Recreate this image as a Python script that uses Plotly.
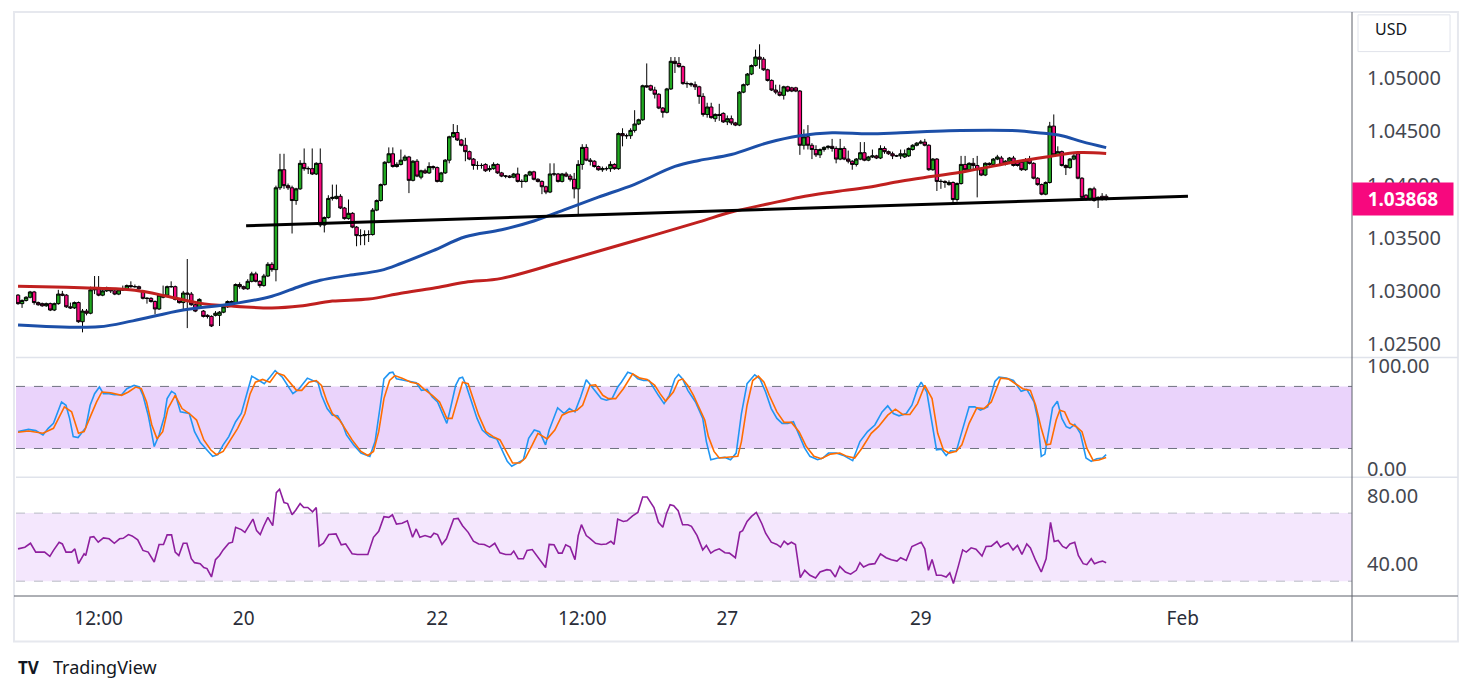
import plotly.graph_objects as go

# hourly EUR/USD candles, index 0 = first bar on screen
opens = [
    1.0296, 1.0288, 1.0291, 1.0294, 1.0299, 1.0289, 1.0288, 1.0286, 1.0288, 1.0282,
    1.0288, 1.0297, 1.0296, 1.0285, 1.0284, 1.0289, 1.0271, 1.0281, 1.0279, 1.0301,
    1.0302, 1.0296, 1.0300, 1.0302, 1.0300, 1.0297, 1.0301, 1.0301, 1.0305, 1.0304,
    1.0304, 1.0300, 1.0293, 1.0293, 1.0290, 1.0283, 1.0294, 1.0296, 1.0304, 1.0304,
    1.0292, 1.0289, 1.0298, 1.0297, 1.0287, 1.0284, 1.0281, 1.0277, 1.0276, 1.0277,
    1.0277, 1.0280, 1.0285, 1.0290, 1.0289, 1.0306, 1.0304, 1.0302, 1.0309, 1.0316,
    1.0309, 1.0305, 1.0314, 1.0325, 1.0320, 1.0397, 1.0414, 1.0399, 1.0397, 1.0385,
    1.0396, 1.0420, 1.0415, 1.0415, 1.0410, 1.0420, 1.0362, 1.0369, 1.0387, 1.0387,
    1.0389, 1.0378, 1.0368, 1.0373, 1.0360, 1.0352, 1.0352, 1.0353, 1.0353, 1.0376,
    1.0385, 1.0400, 1.0421, 1.0429, 1.0417, 1.0419, 1.0423, 1.0426, 1.0404, 1.0422,
    1.0407, 1.0413, 1.0411, 1.0417, 1.0416, 1.0403, 1.0411, 1.0423, 1.0445, 1.0449,
    1.0442, 1.0437, 1.0431, 1.0424, 1.0418, 1.0418, 1.0419, 1.0414, 1.0415, 1.0419,
    1.0411, 1.0408, 1.0408, 1.0407, 1.0410, 1.0403, 1.0403, 1.0409, 1.0412, 1.0405,
    1.0403, 1.0398, 1.0393, 1.0410, 1.0410, 1.0403, 1.0410, 1.0408, 1.0405, 1.0396,
    1.0419, 1.0435, 1.0423, 1.0422, 1.0417, 1.0414, 1.0415, 1.0415, 1.0419, 1.0415,
    1.0448, 1.0446, 1.0446, 1.0451, 1.0457, 1.0461, 1.0493, 1.0493, 1.0489, 1.0485,
    1.0472, 1.0468, 1.0490, 1.0516, 1.0514, 1.0511, 1.0495, 1.0495, 1.0494, 1.0492,
    1.0483, 1.0466, 1.0473, 1.0462, 1.0466, 1.0467, 1.0459, 1.0462, 1.0458, 1.0456,
    1.0487, 1.0494, 1.0504, 1.0512, 1.0520, 1.0518, 1.0508, 1.0498, 1.0489, 1.0487,
    1.0484, 1.0492, 1.0491, 1.0491, 1.0488, 1.0437, 1.0445, 1.0437, 1.0433, 1.0428,
    1.0433, 1.0435, 1.0436, 1.0434, 1.0424, 1.0434, 1.0424, 1.0422, 1.0419, 1.0424,
    1.0430, 1.0423, 1.0426, 1.0427, 1.0425, 1.0434, 1.0431, 1.0429, 1.0427, 1.0427,
    1.0426, 1.0427, 1.0433, 1.0437, 1.0439, 1.0440, 1.0437, 1.0414, 1.0424, 1.0403,
    1.0403, 1.0400, 1.0402, 1.0386, 1.0401, 1.0419, 1.0414, 1.0420, 1.0418, 1.0414,
    1.0409, 1.0420, 1.0419, 1.0424, 1.0425, 1.0419, 1.0422, 1.0425, 1.0421, 1.0421,
    1.0414, 1.0424, 1.0420, 1.0406, 1.0400, 1.0391, 1.0402, 1.0455, 1.0428, 1.0431,
    1.0418, 1.0416, 1.0424, 1.0429, 1.0406, 1.0390, 1.0386, 1.0396, 1.0386, 1.0389, 1.0389,
]
highs = [
    1.0297, 1.0292, 1.0295, 1.0300, 1.0300, 1.0290, 1.0289, 1.0289, 1.0289, 1.0289,
    1.0301, 1.0300, 1.0297, 1.0289, 1.0290, 1.0290, 1.0283, 1.0283, 1.0304, 1.0314,
    1.0314, 1.0301, 1.0304, 1.0303, 1.0301, 1.0302, 1.0305, 1.0306, 1.0309, 1.0306,
    1.0305, 1.0301, 1.0294, 1.0294, 1.0291, 1.0297, 1.0305, 1.0305, 1.0309, 1.0305,
    1.0293, 1.0300, 1.0330, 1.0299, 1.0288, 1.0293, 1.0282, 1.0278, 1.0277, 1.0281,
    1.0281, 1.0286, 1.0291, 1.0291, 1.0307, 1.0308, 1.0305, 1.0311, 1.0318, 1.0318,
    1.0310, 1.0316, 1.0327, 1.0327, 1.0399, 1.0429, 1.0429, 1.0401, 1.0399, 1.0397,
    1.0423, 1.0434, 1.0417, 1.0434, 1.0421, 1.0434, 1.0370, 1.0390, 1.0400, 1.0400,
    1.0391, 1.0379, 1.0386, 1.0374, 1.0361, 1.0358, 1.0357, 1.0357, 1.0378, 1.0386,
    1.0401, 1.0422, 1.0435, 1.0435, 1.0421, 1.0433, 1.0428, 1.0427, 1.0423, 1.0424,
    1.0414, 1.0415, 1.0421, 1.0418, 1.0417, 1.0412, 1.0424, 1.0446, 1.0457, 1.0456,
    1.0443, 1.0444, 1.0432, 1.0425, 1.0422, 1.0420, 1.0420, 1.0418, 1.0421, 1.0420,
    1.0412, 1.0409, 1.0409, 1.0411, 1.0416, 1.0405, 1.0410, 1.0413, 1.0413, 1.0406,
    1.0404, 1.0399, 1.0420, 1.0420, 1.0411, 1.0411, 1.0412, 1.0410, 1.0411, 1.0423,
    1.0438, 1.0438, 1.0425, 1.0423, 1.0418, 1.0417, 1.0417, 1.0422, 1.0420, 1.0449,
    1.0453, 1.0448, 1.0453, 1.0470, 1.0462, 1.0494, 1.0514, 1.0494, 1.0492, 1.0486,
    1.0473, 1.0491, 1.0520, 1.0520, 1.0520, 1.0512, 1.0497, 1.0496, 1.0497, 1.0493,
    1.0486, 1.0477, 1.0477, 1.0467, 1.0476, 1.0468, 1.0465, 1.0465, 1.0459, 1.0488,
    1.0495, 1.0505, 1.0513, 1.0527, 1.0532, 1.0520, 1.0509, 1.0499, 1.0494, 1.0494,
    1.0493, 1.0493, 1.0492, 1.0492, 1.0489, 1.0452, 1.0456, 1.0439, 1.0437, 1.0434,
    1.0436, 1.0437, 1.0443, 1.0436, 1.0443, 1.0436, 1.0432, 1.0423, 1.0425, 1.0440,
    1.0440, 1.0427, 1.0433, 1.0428, 1.0437, 1.0436, 1.0432, 1.0431, 1.0428, 1.0433,
    1.0433, 1.0435, 1.0438, 1.0440, 1.0442, 1.0443, 1.0438, 1.0425, 1.0425, 1.0405,
    1.0404, 1.0404, 1.0403, 1.0402, 1.0427, 1.0427, 1.0421, 1.0425, 1.0427, 1.0415,
    1.0421, 1.0421, 1.0425, 1.0428, 1.0427, 1.0423, 1.0426, 1.0427, 1.0422, 1.0422,
    1.0425, 1.0427, 1.0421, 1.0407, 1.0401, 1.0403, 1.0459, 1.0466, 1.0436, 1.0432,
    1.0419, 1.0425, 1.0429, 1.0431, 1.0407, 1.0391, 1.0397, 1.0398, 1.0389, 1.0392, 1.0391,
]
lows = [
    1.0287, 1.0284, 1.0290, 1.0293, 1.0287, 1.0286, 1.0285, 1.0285, 1.0281, 1.0281,
    1.0287, 1.0295, 1.0284, 1.0283, 1.0283, 1.0270, 1.0261, 1.0277, 1.0278, 1.0297,
    1.0295, 1.0295, 1.0299, 1.0298, 1.0296, 1.0296, 1.0300, 1.0300, 1.0303, 1.0303,
    1.0301, 1.0292, 1.0288, 1.0289, 1.0278, 1.0282, 1.0293, 1.0295, 1.0303, 1.0291,
    1.0288, 1.0282, 1.0265, 1.0286, 1.0280, 1.0283, 1.0275, 1.0274, 1.0266, 1.0276,
    1.0267, 1.0279, 1.0284, 1.0287, 1.0288, 1.0302, 1.0301, 1.0301, 1.0308, 1.0308,
    1.0303, 1.0304, 1.0313, 1.0318, 1.0309, 1.0395, 1.0396, 1.0395, 1.0354, 1.0381,
    1.0395, 1.0413, 1.0410, 1.0409, 1.0409, 1.0360, 1.0355, 1.0368, 1.0385, 1.0386,
    1.0377, 1.0367, 1.0367, 1.0359, 1.0342, 1.0343, 1.0343, 1.0346, 1.0352, 1.0375,
    1.0384, 1.0399, 1.0420, 1.0416, 1.0416, 1.0418, 1.0422, 1.0392, 1.0403, 1.0407,
    1.0405, 1.0410, 1.0410, 1.0414, 1.0402, 1.0402, 1.0410, 1.0420, 1.0444, 1.0441,
    1.0436, 1.0422, 1.0423, 1.0414, 1.0414, 1.0415, 1.0412, 1.0412, 1.0414, 1.0410,
    1.0407, 1.0406, 1.0406, 1.0406, 1.0402, 1.0397, 1.0402, 1.0408, 1.0404, 1.0402,
    1.0391, 1.0391, 1.0392, 1.0408, 1.0402, 1.0402, 1.0407, 1.0403, 1.0387, 1.0372,
    1.0414, 1.0422, 1.0418, 1.0416, 1.0413, 1.0412, 1.0413, 1.0412, 1.0414, 1.0414,
    1.0436, 1.0443, 1.0443, 1.0449, 1.0456, 1.0460, 1.0491, 1.0488, 1.0481, 1.0471,
    1.0463, 1.0467, 1.0489, 1.0505, 1.0510, 1.0494, 1.0491, 1.0492, 1.0489, 1.0476,
    1.0464, 1.0463, 1.0462, 1.0459, 1.0460, 1.0458, 1.0456, 1.0456, 1.0455, 1.0455,
    1.0486, 1.0493, 1.0503, 1.0511, 1.0509, 1.0507, 1.0497, 1.0488, 1.0485, 1.0483,
    1.0480, 1.0487, 1.0487, 1.0487, 1.0428, 1.0433, 1.0433, 1.0424, 1.0426, 1.0425,
    1.0431, 1.0433, 1.0431, 1.0420, 1.0423, 1.0423, 1.0420, 1.0414, 1.0417, 1.0423,
    1.0422, 1.0422, 1.0425, 1.0424, 1.0424, 1.0429, 1.0428, 1.0424, 1.0426, 1.0424,
    1.0425, 1.0426, 1.0432, 1.0436, 1.0438, 1.0436, 1.0413, 1.0413, 1.0394, 1.0396,
    1.0397, 1.0399, 1.0382, 1.0384, 1.0400, 1.0413, 1.0413, 1.0414, 1.0388, 1.0408,
    1.0408, 1.0417, 1.0418, 1.0423, 1.0418, 1.0418, 1.0421, 1.0417, 1.0417, 1.0413,
    1.0413, 1.0419, 1.0405, 1.0399, 1.0390, 1.0390, 1.0401, 1.0427, 1.0427, 1.0417,
    1.0409, 1.0415, 1.0423, 1.0405, 1.0387, 1.0385, 1.0385, 1.0384, 1.0378, 1.0385, 1.0385,
]
closes = [
    1.0288, 1.0291, 1.0294, 1.0299, 1.0289, 1.0287, 1.0286, 1.0288, 1.0282, 1.0288,
    1.0297, 1.0296, 1.0285, 1.0284, 1.0289, 1.0271, 1.0281, 1.0279, 1.0301, 1.0302,
    1.0296, 1.0300, 1.0302, 1.0300, 1.0297, 1.0301, 1.0301, 1.0305, 1.0304, 1.0304,
    1.0302, 1.0293, 1.0293, 1.0290, 1.0283, 1.0296, 1.0296, 1.0304, 1.0304, 1.0292,
    1.0289, 1.0298, 1.0297, 1.0287, 1.0281, 1.0292, 1.0276, 1.0276, 1.0267, 1.0279,
    1.0280, 1.0285, 1.0290, 1.0289, 1.0306, 1.0304, 1.0302, 1.0309, 1.0316, 1.0309,
    1.0305, 1.0314, 1.0325, 1.0320, 1.0397, 1.0414, 1.0399, 1.0397, 1.0385, 1.0396,
    1.0420, 1.0415, 1.0415, 1.0410, 1.0420, 1.0362, 1.0369, 1.0387, 1.0388, 1.0389,
    1.0378, 1.0368, 1.0373, 1.0360, 1.0352, 1.0352, 1.0353, 1.0353, 1.0376, 1.0385,
    1.0400, 1.0421, 1.0429, 1.0417, 1.0419, 1.0423, 1.0426, 1.0404, 1.0422, 1.0408,
    1.0413, 1.0411, 1.0417, 1.0416, 1.0403, 1.0411, 1.0423, 1.0445, 1.0449, 1.0442,
    1.0437, 1.0431, 1.0424, 1.0418, 1.0418, 1.0418, 1.0413, 1.0415, 1.0419, 1.0411,
    1.0408, 1.0408, 1.0407, 1.0410, 1.0403, 1.0403, 1.0409, 1.0412, 1.0405, 1.0403,
    1.0398, 1.0393, 1.0410, 1.0410, 1.0403, 1.0410, 1.0408, 1.0405, 1.0396, 1.0419,
    1.0435, 1.0423, 1.0422, 1.0417, 1.0414, 1.0415, 1.0415, 1.0419, 1.0415, 1.0448,
    1.0446, 1.0446, 1.0451, 1.0457, 1.0461, 1.0493, 1.0492, 1.0489, 1.0485, 1.0472,
    1.0468, 1.0490, 1.0516, 1.0514, 1.0511, 1.0495, 1.0495, 1.0494, 1.0492, 1.0483,
    1.0466, 1.0473, 1.0463, 1.0466, 1.0465, 1.0459, 1.0462, 1.0458, 1.0456, 1.0487,
    1.0494, 1.0504, 1.0512, 1.0520, 1.0518, 1.0508, 1.0498, 1.0489, 1.0487, 1.0484,
    1.0492, 1.0488, 1.0488, 1.0488, 1.0437, 1.0445, 1.0437, 1.0433, 1.0428, 1.0433,
    1.0435, 1.0436, 1.0434, 1.0424, 1.0434, 1.0424, 1.0422, 1.0419, 1.0424, 1.0430,
    1.0423, 1.0426, 1.0427, 1.0425, 1.0434, 1.0431, 1.0429, 1.0427, 1.0427, 1.0429,
    1.0429, 1.0434, 1.0437, 1.0439, 1.0440, 1.0437, 1.0414, 1.0424, 1.0403, 1.0403,
    1.0402, 1.0402, 1.0386, 1.0401, 1.0419, 1.0414, 1.0420, 1.0418, 1.0414, 1.0409,
    1.0420, 1.0419, 1.0424, 1.0426, 1.0419, 1.0422, 1.0425, 1.0418, 1.0418, 1.0414,
    1.0423, 1.0420, 1.0406, 1.0400, 1.0391, 1.0402, 1.0455, 1.0428, 1.0431, 1.0418,
    1.0416, 1.0424, 1.0427, 1.0406, 1.0388, 1.0386, 1.0396, 1.0385, 1.0388, 1.0387, 1.03868,
]
bars = list(range(len(closes)))

# moving averages read at some bars: (bar, value)
ma_fast = [(0, 1.02680), (20, 1.02662), (28.5, 1.02718), (41, 1.02820), (53, 1.02876),
           (63, 1.02950), (70, 1.03044), (75, 1.03100), (82, 1.03146), (90, 1.03193),
           (95, 1.03258), (103, 1.03379), (111, 1.03509), (120, 1.03575), (128, 1.03658),
           (136, 1.03770), (144, 1.03882), (153, 1.04003), (163, 1.04171), (169, 1.04227),
           (177, 1.04283), (186, 1.04394), (194, 1.04460), (202, 1.04488), (211, 1.04478),
           (219, 1.04488), (231, 1.04506), (248, 1.04506), (253, 1.04488), (259, 1.04460),
           (264, 1.04404), (270, 1.04348)]
ma_slow = [(0, 1.03044), (12, 1.03034), (20, 1.03025), (29, 1.03006), (37, 1.02950),
           (45, 1.02885), (53, 1.02857), (63, 1.02839), (70, 1.02857), (78, 1.02904),
           (87, 1.02923), (95, 1.02978), (103, 1.03025), (111, 1.03081), (120, 1.03118),
           (136, 1.03286), (153, 1.03472), (169, 1.03649), (177, 1.03742), (186, 1.03817),
           (194, 1.03882), (202, 1.03929), (211, 1.03975), (219, 1.04031), (227, 1.04078),
           (235, 1.04124), (248, 1.04217), (256, 1.04264), (263, 1.04301), (270, 1.04292)]
trend_bars = [56.6, 290.3]
trend_vals = [1.03612, 1.03891]
last_price = 1.03868

stoch_k = [(0, 36.3), (2.6, 38.5), (4.4, 37.3), (6.2, 33.1), (7.5, 39.5), (8.8, 44.3), (10.8, 65.0),
           (11.9, 61.8), (12.8, 49.1), (13.7, 31.5), (14.9, 30.6), (15.7, 34.7), (16.8, 40.1),
           (17.9, 61.8), (19.0, 73.0), (20.2, 79.4), (21.2, 73.0), (22.6, 73.0), (23.9, 72.0),
           (25.7, 72.0), (27.0, 77.8), (28.8, 81.0), (30.1, 79.4), (31.0, 71.4), (32.3, 52.2),
           (33.8, 21.9), (35.0, 33.1), (36.3, 50.7), (37.0, 68.2), (38.1, 75.2), (39.0, 73.0),
           (40.3, 55.4), (41.6, 54.8), (42.5, 53.8), (43.8, 36.3), (45.2, 26.1), (46.5, 20.3),
           (48.3, 12.4), (49.6, 14.0), (50.9, 23.5), (52.3, 31.5), (54.0, 45.9), (55.4, 53.8),
           (56.7, 71.4), (58.0, 89.9), (59.4, 86.7), (61.1, 82.6), (62.5, 88.9), (63.8, 95.3),
           (65.6, 88.9), (66.9, 81.0), (68.2, 73.0), (69.6, 77.1), (70.9, 84.1), (71.8, 88.0),
           (73.1, 85.7), (74.4, 84.1), (75.3, 71.4), (76.7, 58.6), (78.0, 52.2), (79.3, 51.6),
           (80.6, 42.7), (81.5, 33.1), (83.3, 23.5), (85.1, 15.6), (87.3, 12.4), (88.6, 26.7),
           (89.9, 61.8), (90.8, 87.3), (92.2, 93.1), (93.0, 93.7), (93.9, 87.3), (95.7, 85.7),
           (97.5, 84.1), (98.8, 83.5), (100.1, 76.2), (101.5, 77.1), (102.8, 69.8), (104.1, 65.0),
           (105.5, 52.2), (106.4, 44.3), (107.2, 57.0), (108.6, 81.0), (109.5, 88.0), (110.3, 88.9),
           (111.2, 81.0), (112.6, 65.0), (113.9, 49.1), (115.2, 37.9), (117.0, 31.5), (118.8, 29.3),
           (120.1, 18.8), (121.4, 7.6), (122.5, 2.8), (124.1, 6.0), (125.4, 9.2), (126.7, 29.9),
           (128.1, 37.9), (129.4, 36.3), (130.9, 23.5), (131.8, 37.9), (133.9, 59.3), (135.5, 53.8),
           (136.8, 58.6), (138.2, 55.4), (139.6, 69.8), (141.0, 86.4), (142.4, 79.4), (143.3, 74.6),
           (144.7, 68.2), (146.0, 66.6), (147.4, 68.2), (148.8, 79.4), (149.7, 84.1), (151.3, 93.7),
           (152.5, 92.1), (153.8, 87.3), (155.2, 85.7), (156.6, 85.7), (158.0, 76.2), (158.9, 71.4),
           (160.3, 63.4), (161.6, 71.4), (163.0, 87.3), (163.9, 91.5), (164.9, 87.3), (166.2, 76.2),
           (168.1, 65.0), (169.9, 49.1), (170.8, 26.7), (171.9, 9.2), (173.6, 10.8), (175.4, 11.4),
           (176.8, 9.2), (178.2, 15.6), (179.5, 53.8), (180.9, 82.6), (182.8, 91.2), (184.1, 87.3),
           (185.5, 74.6), (186.9, 58.6), (188.3, 49.1), (189.6, 44.3), (191.0, 44.3), (192.4, 45.9),
           (193.8, 33.1), (195.2, 20.4), (196.5, 12.4), (198.4, 9.2), (199.7, 10.8), (201.1, 15.6),
           (203.0, 15.6), (204.8, 13.3), (207.1, 8.2), (208.9, 26.7), (210.8, 36.3), (212.6, 42.7),
           (214.4, 55.4), (215.8, 61.2), (217.2, 53.8), (218.6, 51.6), (220.4, 53.8), (221.8, 61.8),
           (223.2, 77.8), (224.1, 84.1), (225.5, 74.6), (226.8, 45.9), (227.9, 18.8), (229.1, 19.4),
           (230.3, 13.3), (231.4, 17.8), (232.8, 17.2), (234.2, 36.3), (236.0, 60.2), (237.4, 60.2),
           (238.8, 57.0), (240.6, 60.2), (242.4, 84.8), (243.4, 88.9), (245.2, 88.0), (247.0, 85.7),
           (248.9, 75.2), (250.3, 77.1), (252.1, 65.0), (253.0, 49.1), (253.9, 12.4), (254.8, 14.6),
           (255.8, 39.5), (256.7, 59.3), (257.9, 65.6), (259.0, 49.1), (260.1, 41.1), (261.0, 39.5),
           (262.2, 43.3), (263.6, 34.7), (265.0, 10.8), (266.3, 7.6), (267.7, 10.1), (269.1, 10.8),
           (270.0, 14.0)]
stoch_d = [(0, 35.7), (2.6, 36.9), (6.2, 34.7), (8.8, 39.5), (11.5, 60.2), (13.3, 55.4), (15.0, 34.7),
           (16.4, 36.3), (18.1, 52.2), (19.5, 65.0), (20.8, 74.6), (23.0, 73.9), (25.7, 71.4),
           (27.4, 74.6), (29.2, 79.4), (30.6, 77.8), (31.9, 65.0), (33.2, 42.7), (34.5, 29.3),
           (35.9, 36.3), (37.2, 58.6), (39.0, 71.4), (40.7, 58.6), (42.5, 53.8), (44.3, 47.5),
           (46.1, 28.3), (47.8, 18.8), (49.2, 14.0), (50.9, 17.2), (52.7, 28.3), (54.5, 39.5),
           (56.3, 53.8), (57.6, 73.0), (58.9, 84.1), (60.7, 86.7), (62.5, 84.1), (64.2, 93.1),
           (66.0, 90.5), (67.3, 84.1), (69.1, 76.2), (70.4, 76.2), (72.2, 84.1), (74.0, 85.7),
           (75.3, 81.0), (76.7, 65.0), (78.0, 53.8), (79.8, 47.5), (81.1, 39.5), (82.9, 28.3),
           (85.1, 17.2), (86.8, 13.3), (88.2, 17.2), (89.5, 36.3), (90.8, 68.2), (92.2, 85.7),
           (93.5, 90.5), (95.3, 88.0), (97.5, 84.1), (99.3, 82.6), (100.6, 77.8), (102.8, 71.4),
           (104.6, 65.0), (106.4, 49.1), (107.7, 49.1), (109.0, 66.6), (110.3, 84.1), (111.7, 82.6),
           (113.0, 68.2), (114.3, 52.2), (116.1, 36.3), (117.9, 31.5), (119.6, 28.3), (121.4, 15.6),
           (122.7, 6.0), (124.5, 6.0), (125.9, 10.8), (127.6, 23.5), (129.0, 34.7), (131.3, 29.3),
           (133.2, 37.9), (135.0, 52.2), (136.8, 55.4), (138.7, 57.0), (140.1, 61.8), (141.9, 81.0),
           (143.3, 81.6), (145.1, 71.4), (146.5, 68.2), (148.3, 68.2), (150.2, 77.8), (152.5, 92.1),
           (154.3, 88.0), (156.1, 86.7), (158.0, 81.0), (159.3, 73.0), (160.7, 65.6), (162.6, 74.6),
           (163.9, 85.7), (164.9, 87.3), (166.2, 81.0), (167.6, 71.4), (169.0, 60.2), (170.4, 47.5),
           (171.3, 31.5), (172.7, 17.2), (174.0, 10.8), (175.9, 11.4), (177.3, 11.4), (178.6, 12.4),
           (179.5, 26.7), (180.9, 61.8), (182.3, 85.7), (183.7, 89.9), (185.1, 84.1), (186.4, 71.4),
           (188.3, 55.4), (190.1, 45.2), (191.9, 45.2), (193.8, 36.3), (195.6, 21.9), (197.5, 12.4),
           (199.3, 10.1), (201.6, 14.6), (203.9, 15.6), (205.7, 12.4), (207.6, 10.8), (209.4, 20.3),
           (211.7, 34.7), (213.5, 41.1), (215.8, 52.2), (217.7, 58.0), (219.5, 52.9), (221.3, 52.9),
           (223.2, 63.4), (225.0, 81.0), (226.8, 68.2), (228.2, 34.7), (229.6, 18.8), (231.0, 15.6),
           (232.8, 17.2), (234.2, 23.5), (236.0, 44.3), (237.9, 59.3), (239.7, 58.6), (241.5, 65.0),
           (243.8, 88.0), (245.7, 87.3), (247.5, 82.6), (249.3, 77.8), (251.2, 76.2), (252.5, 61.8),
           (253.9, 39.5), (255.1, 23.5), (256.2, 24.2), (257.6, 47.5), (258.5, 57.0), (259.7, 55.4),
           (261.0, 44.3), (262.6, 41.1), (264.0, 36.3), (265.2, 20.3), (266.8, 8.2), (268.2, 8.8),
           (270.0, 11.4)]
rsi = [(0, 49.0), (1.7, 50.0), (3.1, 52.3), (4.4, 47.1), (6.6, 47.1), (7.9, 44.6), (8.8, 48.1),
       (10.2, 52.9), (11.0, 51.9), (11.9, 47.1), (13.3, 47.1), (14.1, 49.0), (15.0, 40.3), (16.4, 46.1),
       (16.8, 45.1), (17.9, 55.8), (18.8, 56.2), (19.9, 52.9), (21.2, 55.4), (22.6, 54.9), (23.9, 52.3),
       (25.2, 54.9), (26.1, 55.2), (27.4, 57.4), (28.3, 56.6), (29.7, 54.3), (31.0, 48.1), (32.3, 47.1),
       (33.8, 41.3), (35.0, 51.6), (36.1, 51.6), (37.0, 57.2), (38.1, 57.2), (39.0, 47.1), (39.9, 45.1),
       (41.0, 52.3), (41.9, 52.3), (43.0, 43.2), (43.8, 40.9), (45.2, 40.3), (46.1, 38.0), (46.9, 37.4),
       (48.0, 32.5), (49.0, 42.6), (50.0, 45.1), (50.9, 48.4), (52.3, 52.3), (53.2, 52.9), (54.0, 61.7),
       (55.4, 60.3), (56.3, 58.7), (57.6, 63.6), (58.3, 66.5), (59.2, 59.7), (60.1, 57.4), (61.0, 62.6),
       (62.0, 67.5), (63.2, 62.6), (64.1, 82.0), (64.9, 84.0), (66.0, 76.2), (66.9, 75.6), (68.0, 69.0),
       (68.9, 71.7), (70.0, 75.6), (70.9, 73.3), (71.9, 73.3), (73.1, 70.8), (74.0, 73.3), (74.7, 50.6),
       (75.8, 52.3), (77.1, 57.4), (78.9, 57.8), (80.2, 51.4), (81.3, 51.9), (82.9, 46.1), (84.2, 45.7),
       (86.8, 45.7), (88.2, 55.8), (89.5, 59.3), (90.8, 67.9), (92.0, 67.5), (92.9, 69.0), (93.9, 63.6),
       (95.3, 64.0), (96.6, 65.5), (97.9, 55.8), (98.8, 60.7), (99.7, 55.8), (101.0, 56.8), (102.4, 55.8),
       (103.2, 58.2), (104.1, 57.4), (105.2, 51.6), (106.3, 54.9), (108.1, 66.5), (109.2, 66.9),
       (110.3, 62.6), (111.7, 58.7), (113.0, 53.5), (114.3, 51.9), (115.7, 51.6), (117.0, 50.0),
       (118.3, 52.3), (119.6, 46.7), (121.0, 45.7), (122.3, 45.7), (123.0, 47.7), (124.1, 43.2),
       (125.4, 43.2), (126.3, 48.1), (127.6, 48.6), (128.5, 45.7), (129.8, 42.2), (130.9, 38.0),
       (131.8, 51.6), (133.0, 51.4), (134.1, 46.5), (135.0, 46.5), (135.9, 51.4), (137.0, 50.0),
       (138.2, 42.6), (139.0, 56.8), (139.8, 63.2), (141.0, 56.8), (141.9, 55.2), (143.3, 52.3),
       (144.7, 51.6), (146.0, 51.9), (147.1, 53.5), (147.9, 51.6), (148.8, 66.5), (150.2, 65.1),
       (151.1, 65.5), (152.5, 68.4), (153.8, 70.4), (155.0, 79.5), (156.1, 79.5), (157.8, 73.3),
       (158.9, 64.6), (160.0, 61.7), (160.9, 69.8), (161.8, 74.9), (162.7, 74.3), (163.8, 71.4),
       (164.9, 63.2), (166.2, 63.2), (167.1, 62.2), (168.5, 56.8), (169.9, 48.4), (170.8, 51.0),
       (171.9, 46.5), (172.9, 48.1), (174.0, 49.0), (175.4, 46.7), (176.5, 46.5), (178.0, 43.8),
       (179.1, 58.7), (179.8, 59.7), (180.9, 65.1), (182.0, 68.1), (183.2, 70.4), (184.6, 63.6),
       (185.5, 58.2), (186.9, 52.9), (188.3, 51.6), (189.2, 50.0), (190.1, 53.5), (191.0, 51.6),
       (191.9, 52.9), (192.9, 51.6), (194.1, 32.1), (195.2, 36.4), (196.5, 33.5), (197.9, 31.9),
       (199.0, 35.4), (200.7, 36.8), (201.6, 36.4), (202.8, 32.5), (203.9, 38.7), (205.3, 35.4),
       (206.6, 34.1), (208.0, 36.4), (208.9, 40.9), (209.8, 38.3), (211.2, 39.9), (212.6, 40.3),
       (214.0, 46.1), (215.4, 43.8), (216.7, 42.6), (218.1, 41.8), (219.0, 43.8), (220.4, 42.2),
       (221.8, 50.4), (223.2, 51.9), (224.1, 52.9), (225.0, 49.0), (225.9, 36.4), (226.8, 42.8),
       (227.9, 33.5), (229.1, 33.5), (230.3, 32.5), (231.2, 34.9), (232.1, 28.6), (233.3, 38.7),
       (234.4, 48.4), (235.3, 47.1), (236.5, 49.6), (237.7, 48.8), (239.2, 44.8), (240.2, 50.4),
       (241.5, 50.6), (242.9, 53.3), (243.8, 50.0), (244.7, 51.4), (245.7, 52.5), (246.9, 48.4),
       (248.0, 51.0), (249.1, 45.7), (250.3, 51.9), (251.2, 49.6), (252.5, 42.2), (253.9, 35.4),
       (255.1, 43.2), (256.2, 64.6), (257.1, 53.3), (258.1, 53.9), (259.2, 50.4), (260.1, 49.4),
       (261.0, 51.9), (262.2, 52.9), (263.1, 45.1), (264.3, 40.3), (265.2, 39.7), (266.3, 43.2),
       (267.1, 40.3), (268.2, 41.3), (269.1, 41.8), (270.0, 40.9)]

tick_bars = [20, 56, 104, 140, 176, 224, 289]
tick_text = ["12:00", "20", "22", "12:00", "27", "29", "Feb"]
price_ticks = [1.025, 1.030, 1.035, 1.040, 1.045, 1.050]

GREEN = "#20A920"
PINK = "#F7087E"
FONT = "Noto Sans"

fig = go.Figure()

fig.add_trace(go.Candlestick(
    x=bars, open=opens, high=highs, low=lows, close=closes,
    increasing=dict(fillcolor=GREEN, line=dict(color="black", width=1)),
    decreasing=dict(fillcolor=PINK, line=dict(color="black", width=1)),
    whiskerwidth=0, showlegend=False, hoverinfo="skip", xaxis="x", yaxis="y",
))
fig.add_trace(go.Scatter(x=[p[0] for p in ma_slow], y=[p[1] for p in ma_slow], mode="lines",
                         line=dict(color="#C0201F", width=3, shape="spline"),
                         showlegend=False, hoverinfo="skip", yaxis="y"))
fig.add_trace(go.Scatter(x=[p[0] for p in ma_fast], y=[p[1] for p in ma_fast], mode="lines",
                         line=dict(color="#1C4FA8", width=3, shape="spline"),
                         showlegend=False, hoverinfo="skip", yaxis="y"))
fig.add_trace(go.Scatter(x=trend_bars, y=trend_vals, mode="lines",
                         line=dict(color="black", width=3),
                         showlegend=False, hoverinfo="skip", yaxis="y"))

fig.add_trace(go.Scatter(x=[p[0] for p in stoch_k], y=[p[1] for p in stoch_k], mode="lines",
                         line=dict(color="#2196F3", width=1.6),
                         showlegend=False, hoverinfo="skip", yaxis="y2"))
fig.add_trace(go.Scatter(x=[p[0] for p in stoch_d], y=[p[1] for p in stoch_d], mode="lines",
                         line=dict(color="#FF6D00", width=1.6),
                         showlegend=False, hoverinfo="skip", yaxis="y2"))
fig.add_trace(go.Scatter(x=[p[0] for p in rsi], y=[p[1] for p in rsi], mode="lines",
                         line=dict(color="#8E1F9E", width=1.6),
                         showlegend=False, hoverinfo="skip", yaxis="y3"))

axis_font = dict(family=FONT, size=20, color="#444750")
yaxis_common = dict(side="right", anchor="x", showgrid=False, zeroline=False, showline=False,
                    ticks="", ticklabelstandoff=14, tickfont=axis_font, fixedrange=True)

# page body has an 8px margin, so the figure sits 8px right and down
fig.update_layout(
    width=1472, height=696,
    margin=dict(l=8, r=128, t=0, b=108),
    paper_bgcolor="white", plot_bgcolor="white",
    showlegend=False,
    boxgap=0.15, boxgroupgap=0,
    xaxis=dict(domain=[0, 1], anchor="y3", range=[-0.5, 331], showgrid=False, zeroline=False,
               showline=False, ticks="", tickvals=tick_bars, ticktext=tick_text,
               tickfont=dict(family=FONT, size=19, color="#2a2e39"), ticklabelstandoff=9,
               rangeslider=dict(visible=False), fixedrange=True),
    yaxis=dict(domain=[0.4099, 1], range=[1.02374, 1.05605], tickvals=price_ticks,
               tickformat=".5f", **yaxis_common),
    yaxis2=dict(domain=[0.2041, 0.4099], range=[-7.75, 108.0], tickvals=[0, 100],
                ticktext=["0.00", "100.00"], **yaxis_common),
    yaxis3=dict(domain=[0, 0.2041], range=[21.3, 91.1], tickvals=[40, 80],
                ticktext=["40.00", "80.00"], **yaxis_common),
)

# indicator bands
fig.add_shape(type="rect", xref="paper", yref="y2", x0=0, x1=1, y0=20, y1=80,
              fillcolor="#EAD3FB", line_width=0, layer="below")
for lvl in (20, 80):
    fig.add_shape(type="line", xref="paper", yref="y2", x0=0, x1=1, y0=lvl, y1=lvl,
                  line=dict(color="#6F7380", width=1, dash="dash"), layer="below")
fig.add_shape(type="rect", xref="paper", yref="y3", x0=0, x1=1, y0=30, y1=70,
              fillcolor="#F4E7FD", line_width=0, layer="below")
for lvl in (30, 70):
    fig.add_shape(type="line", xref="paper", yref="y3", x0=0, x1=1, y0=lvl, y1=lvl,
                  line=dict(color="#B8BBC4", width=1, dash="dash"), layer="below")

# frame and panel separators
fig.add_shape(type="rect", xref="paper", yref="paper", x0=-0.0015, x1=1.0793, y0=-0.0782, y1=1.0034,
              line=dict(color="#E6E8EE", width=2))
for yy in (0.4099, 0.2041):
    fig.add_shape(type="line", xref="paper", yref="paper", x0=0, x1=1.0793, y0=yy, y1=yy,
                  line=dict(color="#E0E3EB", width=1.5))
fig.add_shape(type="line", xref="paper", yref="paper", x0=1, x1=1, y0=-0.0782, y1=1.0034,
              line=dict(color="#5D606B", width=1))
fig.add_shape(type="line", xref="paper", yref="paper", x0=-0.0015, x1=1.0793, y0=0, y1=0,
              line=dict(color="#5D606B", width=1))

# currency box
fig.add_shape(type="rect", xref="paper", yref="paper", x0=1.0045, x1=1.0734, y0=0.9354, y1=0.9985,
              line=dict(color="#E0E3EB", width=1), fillcolor="white")
fig.add_annotation(xref="paper", yref="paper", x=1.0155, y=0.974, text="USD", showarrow=False,
                   xanchor="left", yanchor="middle", font=dict(family=FONT, size=16, color="#131722"))

# last price label
fig.add_annotation(xref="paper", yref="y", x=1.0, y=last_price, text=f"<b>{last_price:.5f}</b>",
                   showarrow=False, xanchor="left", yanchor="middle", bgcolor=PINK, borderpad=3,
                   font=dict(family=FONT, size=19, color="white"), width=94)

# logo
fig.add_annotation(xref="paper", yref="paper", x=0.0, y=-0.1224, text="<b>TV</b>", showarrow=False,
                   xanchor="left", yanchor="middle", font=dict(family=FONT, size=17, color="#131722"))
fig.add_annotation(xref="paper", yref="paper", x=0.026, y=-0.1224, text="TradingView", showarrow=False,
                   xanchor="left", yanchor="middle", font=dict(family=FONT, size=18, color="#131722"))

fig.write_html("out.html")
